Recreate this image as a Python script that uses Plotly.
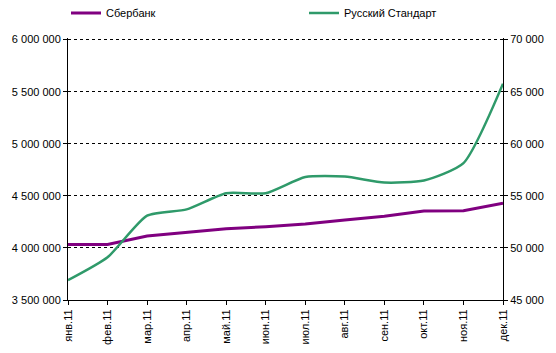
import plotly.graph_objects as go

months = ["янв.11", "фев.11", "мар.11", "апр.11", "май.11", "июн.11",
          "июл.11", "авг.11", "сен.11", "окт.11", "ноя.11", "дек.11"]
sberbank = [4032000, 4032000, 4115000, 4152000, 4184000, 4203000,
            4230000, 4268000, 4305000, 4355000, 4357000, 4430000]
russian_standard = [46900, 49100, 53100, 53700, 55250, 55250,
                    56800, 56850, 56280, 56470, 58140, 65770]

left_ticks = [3500000, 4000000, 4500000, 5000000, 5500000, 6000000]
left_labels = ["3 500 000", "4 000 000", "4 500 000", "5 000 000", "5 500 000", "6 000 000"]
right_ticks = [45000, 50000, 55000, 60000, 65000, 70000]
right_labels = ["45 000", "50 000", "55 000", "60 000", "65 000", "70 000"]

font = dict(family="Liberation Sans, Arial, sans-serif", size=11, color="black")

fig = go.Figure()
fig.add_trace(go.Scatter(x=months, y=sberbank, name="Сбербанк", mode="lines",
                         line=dict(color="#800080", width=3), yaxis="y", legend="legend"))
fig.add_trace(go.Scatter(x=months, y=russian_standard, name="Русский Стандарт", mode="lines",
                         line=dict(color="#2F9A6A", width=2.5, shape="spline", smoothing=0.6),
                         yaxis="y2", legend="legend2"))

leg_common = dict(orientation="h", xref="container", yref="container",
                  xanchor="left", yanchor="middle", font=font, itemwidth=30,
                  bgcolor="rgba(0,0,0,0)", borderwidth=0)

fig.update_layout(
    width=556, height=353,
    margin=dict(l=68, r=53, t=38, b=53, autoexpand=False),
    paper_bgcolor="white", plot_bgcolor="white",
    font=font,
    showlegend=True,
    legend=dict(x=66 / 556, y=1 - 13 / 353, **leg_common),
    legend2=dict(x=304 / 556, y=1 - 13 / 353, **leg_common),
    xaxis=dict(type="category", range=[0, 11], showline=True, linecolor="black", linewidth=1,
               ticks="outside", ticklen=4, tickcolor="black", tickangle=-90,
               showgrid=False, zeroline=False, tickfont=font),
    yaxis=dict(range=[3500000, 6015000], tickvals=left_ticks, ticktext=left_labels,
               showline=True, linecolor="black", linewidth=1, ticks="outside", ticklen=4,
               tickcolor="black", showgrid=True, gridcolor="black", gridwidth=1,
               griddash="3px,3px", zeroline=False, tickfont=font),
    yaxis2=dict(range=[45000, 70150], tickvals=right_ticks, ticktext=right_labels,
                overlaying="y", side="right", showline=True, linecolor="black", linewidth=1,
                ticks="outside", ticklen=4, tickcolor="black", showgrid=False,
                zeroline=False, tickfont=font),
)

fig.write_html("out.html")
